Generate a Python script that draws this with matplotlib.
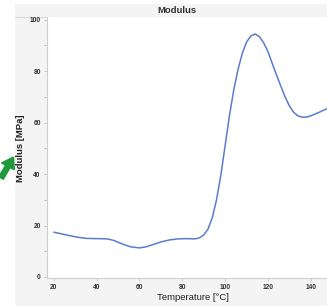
import numpy as np
import matplotlib
matplotlib.use("Agg")
import matplotlib.pyplot as plt
from matplotlib.patches import Rectangle, FancyArrow
from matplotlib.ticker import MultipleLocator

# values
temperature = [20, 25, 30, 35, 40, 45, 48, 50, 53, 56, 60, 63, 66, 70, 74, 78,
               82, 86, 88, 90, 92, 94, 96, 98, 100, 102, 104, 106, 108, 110,
               112, 114, 116, 118, 120, 122, 124, 126, 128, 130, 132, 134,
               136, 138, 140, 142, 144, 146, 148]
modulus = [17.4, 16.5, 15.6, 15.0, 14.9, 14.8, 14.2, 13.5, 12.5, 11.7, 11.3,
           11.7, 12.5, 13.6, 14.4, 14.8, 14.9, 14.8, 15.2, 16.3, 18.6, 23.0,
           30.0, 39.5, 51.0, 62.5, 72.5, 80.5, 86.8, 91.2, 93.6, 94.4, 93.4,
           91.0, 87.6, 83.0, 78.5, 74.2, 70.0, 66.5, 64.0, 62.6, 62.1, 62.1,
           62.6, 63.3, 64.0, 64.8, 65.5]
x_ticks = [20, 40, 60, 80, 100, 120, 140]
y_ticks = [0, 20, 40, 60, 80, 100]

W, H = 327, 306
fig = plt.figure(figsize=(W / 100, H / 100), dpi=100, facecolor="white")

def fx(px):
    return px / W

def fy(py):
    return 1 - py / H

# grey panel behind the chart
fig.patches.append(Rectangle((fx(15), 0), 1, fy(4), transform=fig.transFigure,
                             facecolor="#f4f4f4", edgecolor="none", zorder=-10))
fig.lines.append(plt.Line2D([fx(15), 1], [fy(16.5), fy(16.5)], transform=fig.transFigure,
                            color="#dcdcdc", lw=0.8, zorder=-5))

ax = fig.add_axes([fx(47), fy(277.5), 1 - fx(47), fy(17) - fy(277.5)])
ax.set_facecolor("white")
ax.plot(temperature, modulus, color="#5a7ccc", lw=1.1, solid_capstyle="round")

ax.set_xlim(16.8, 147.6)
ax.set_ylim(-0.2, 101)
ax.set_xticks(x_ticks)
ax.set_yticks(y_ticks)
ax.yaxis.set_minor_locator(MultipleLocator(10))

for s in ["top", "right"]:
    ax.spines[s].set_visible(False)
for s in ["left", "bottom"]:
    ax.spines[s].set_color("#cfcfcf")
    ax.spines[s].set_linewidth(0.8)

ax.tick_params(which="both", direction="out", length=2.5, width=0.6, color="#bdbdbd",
               labelsize=4.8, labelcolor="#333333", pad=2)
ax.tick_params(which="minor", length=2)
for lab in ax.get_xticklabels() + ax.get_yticklabels():
    lab.set_fontfamily("Liberation Sans")
    lab.set_fontweight("bold")

fig.text(fx(176.5), fy(10.5), "Modulus", ha="center", va="center",
         fontsize=6.8, fontweight="bold", family="Liberation Sans", color="#333333")
fig.text(fx(192.5), fy(297.5), "Temperature [\u00b0C]", ha="center", va="center",
         fontsize=6.8, family="Liberation Sans", color="#222222")
fig.text(fx(20.5), fy(148), "Modulus [MPa]", ha="center", va="center", rotation=90,
         fontsize=6.8, fontweight="bold", family="Liberation Sans", color="#222222")

# green pointer arrow on the left
arrow = FancyArrow(fx(1), fy(178), fx(12.5), fy(157) - fy(178), width=0.016,
                   head_width=0.045, head_length=0.035, length_includes_head=True,
                   transform=fig.transFigure, color="#1e9a3c", zorder=5)
fig.patches.append(arrow)

fig.savefig("out.png", dpi=100, facecolor="white")
